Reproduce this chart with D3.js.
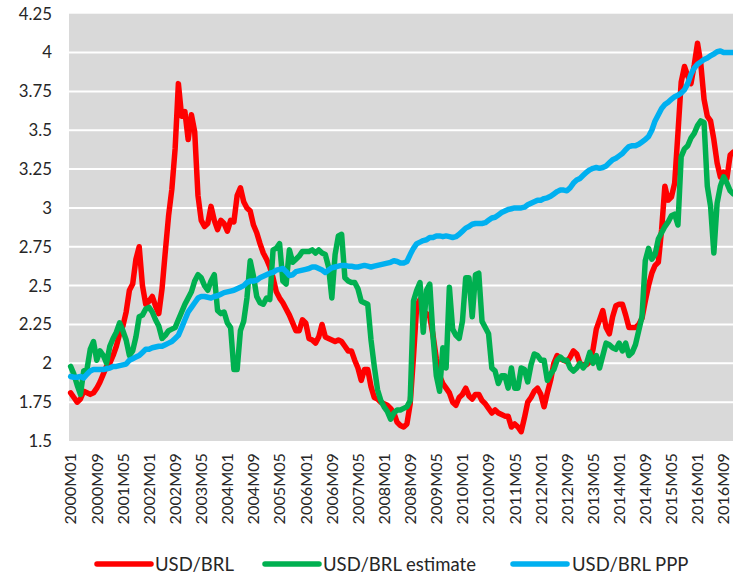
<!DOCTYPE html>
<html>
<head>
<meta charset="utf-8">
<script src="https://cdn.jsdelivr.net/npm/d3@7"></script>
<style>
  html, body { margin: 0; padding: 0; background: #ffffff; }
  svg { display: block; }
  text { font-family: Lato, "Liberation Sans", sans-serif; fill: #262626; }
</style>
</head>
<body>
<svg id="chart" width="733" height="578"></svg>
<script>
// Monthly categories, 2000M01 .. 2016M12
const startYear = 2000;
const endYear = 2016;
const months = [];
for (let y = startYear; y <= endYear; y++) {
  for (let m = 1; m <= 12; m++) months.push(`${y}M${String(m).padStart(2, "0")}`);
}

// Every eighth month gets a label on the category axis
const tickMonths = months.filter((d, i) => i % 8 === 0);

const yTicks = [1.5, 1.75, 2, 2.25, 2.5, 2.75, 3, 3.25, 3.5, 3.75, 4, 4.25];

// USD/BRL, monthly average
const usdBrl = [
  1.81, 1.78, 1.75, 1.77, 1.82, 1.81, 1.80, 1.81, 1.84, 1.88, 1.93, 1.98,
  2.00, 2.05, 2.11, 2.19, 2.24, 2.33, 2.47, 2.51, 2.67, 2.75, 2.50, 2.38,
  2.40, 2.43, 2.37, 2.32, 2.48, 2.72, 2.95, 3.12, 3.38, 3.80, 3.59, 3.62,
  3.44, 3.60, 3.49, 3.08, 2.92, 2.88, 2.90, 3.01, 2.92, 2.86, 2.92, 2.90,
  2.85, 2.92, 2.91, 3.08, 3.13, 3.04, 3.00, 2.98, 2.89, 2.84, 2.77, 2.71,
  2.67, 2.62, 2.55, 2.46, 2.42, 2.39, 2.35, 2.31, 2.26, 2.21, 2.21, 2.28,
  2.26, 2.16, 2.15, 2.13, 2.17, 2.25, 2.17, 2.16, 2.15, 2.14, 2.15, 2.14,
  2.11, 2.08, 2.08, 2.02, 1.97, 1.89, 1.96, 1.96, 1.85, 1.78, 1.77, 1.75,
  1.74, 1.73, 1.71, 1.68, 1.62, 1.60, 1.59, 1.61, 1.74, 2.04, 2.37, 2.41,
  2.33, 2.32, 2.30, 2.18, 2.03, 1.92, 1.87, 1.84, 1.81, 1.75, 1.73, 1.78,
  1.80, 1.84, 1.79, 1.77, 1.80, 1.80, 1.76, 1.74, 1.71, 1.68, 1.70, 1.68,
  1.67, 1.66, 1.66, 1.59, 1.61, 1.59, 1.56, 1.65, 1.75, 1.78, 1.82, 1.84,
  1.80, 1.72, 1.81, 1.89, 2.00, 2.05, 2.03, 2.02, 2.01, 2.04, 2.08, 2.06,
  2.00, 1.99, 1.99, 2.01, 2.09, 2.22, 2.28, 2.34, 2.23, 2.19, 2.30, 2.37,
  2.38, 2.38, 2.31, 2.23, 2.23, 2.23, 2.25, 2.29, 2.40, 2.50, 2.58, 2.63,
  2.65, 2.86, 3.14, 3.05, 3.07, 3.16, 3.48, 3.81, 3.91, 3.85, 3.80, 3.92,
  4.06, 3.93, 3.70, 3.59, 3.56, 3.44, 3.29, 3.20, 3.23, 3.19, 3.34, 3.36
];

// USD/BRL estimate
const usdBrlEstimate = [
  1.98, 1.93, 1.86, 1.80, 1.95, 1.96, 2.09, 2.14, 2.02, 2.08, 2.05, 2.00,
  2.11, 2.16, 2.20, 2.26, 2.21, 2.15, 2.05, 2.08, 2.17, 2.30, 2.31, 2.35,
  2.36, 2.33, 2.28, 2.24, 2.16, 2.18, 2.21, 2.22, 2.23, 2.28, 2.33, 2.38,
  2.42, 2.46, 2.53, 2.57, 2.55, 2.50, 2.47, 2.53, 2.57, 2.34, 2.32, 2.33,
  2.26, 2.23, 1.96, 1.96, 2.21, 2.27, 2.42, 2.66, 2.56, 2.43, 2.39, 2.38,
  2.42, 2.41, 2.73, 2.74, 2.77, 2.53, 2.51, 2.73, 2.65, 2.67, 2.69, 2.72,
  2.72, 2.72, 2.73, 2.71, 2.73, 2.71, 2.70, 2.62, 2.42, 2.70, 2.82, 2.83,
  2.55, 2.53, 2.52, 2.52, 2.48, 2.40, 2.39, 2.38, 2.15, 1.98, 1.83, 1.76,
  1.72, 1.69, 1.64, 1.68, 1.70, 1.70, 1.71, 1.72, 1.76, 2.40, 2.47, 2.52,
  2.20, 2.47, 2.51, 2.17, 1.92, 1.82, 2.10, 1.97, 2.49, 2.22, 2.18, 2.16,
  2.27, 2.55, 2.55, 2.30, 2.57, 2.58, 2.27, 2.23, 2.19, 1.97, 1.95, 1.87,
  1.92, 1.92, 1.84, 1.97, 1.84, 1.84, 1.97, 1.96, 1.88, 1.99, 2.06, 2.05,
  2.02, 2.02, 1.89, 1.93, 1.96, 2.02, 2.04, 2.02, 2.02, 1.97, 1.95, 1.97,
  2.00, 1.97, 2.00, 2.07, 2.00, 2.05, 1.97, 2.05, 2.13, 2.12, 2.10, 2.09,
  2.13, 2.08, 2.13, 2.05, 2.07, 2.12, 2.21, 2.30, 2.66, 2.74, 2.67, 2.70,
  2.80, 2.84, 2.88, 2.91, 2.95, 2.96, 2.89, 3.33, 3.38, 3.40, 3.45, 3.48,
  3.53, 3.56, 3.55, 3.14, 3.01, 2.71, 3.03, 3.14, 3.20, 3.16, 3.11, 3.09
];

// USD/BRL purchasing power parity
const usdBrlPpp = [
  1.915, 1.91, 1.91, 1.915, 1.905, 1.93, 1.95, 1.96, 1.96, 1.96, 1.96, 1.965,
  1.97, 1.98, 1.98, 1.985, 1.99, 1.995, 2.02, 2.03, 2.04, 2.05, 2.07, 2.09,
  2.09, 2.10, 2.105, 2.11, 2.11, 2.12, 2.13, 2.14, 2.16, 2.18, 2.23, 2.28,
  2.33, 2.36, 2.39, 2.42, 2.43, 2.43, 2.425, 2.42, 2.43, 2.435, 2.445, 2.455,
  2.46, 2.465, 2.47, 2.48, 2.49, 2.50, 2.52, 2.53, 2.53, 2.535, 2.55, 2.56,
  2.57, 2.58, 2.585, 2.60, 2.605, 2.61, 2.59, 2.565, 2.57, 2.59, 2.595, 2.60,
  2.605, 2.61, 2.62, 2.62, 2.61, 2.60, 2.585, 2.60, 2.615, 2.62, 2.625, 2.63,
  2.63, 2.625, 2.625, 2.62, 2.62, 2.625, 2.63, 2.625, 2.62, 2.625, 2.63, 2.635,
  2.64, 2.645, 2.65, 2.66, 2.655, 2.645, 2.645, 2.655, 2.70, 2.74, 2.77, 2.78,
  2.79, 2.795, 2.81, 2.81, 2.82, 2.82, 2.815, 2.82, 2.815, 2.81, 2.815, 2.83,
  2.85, 2.87, 2.88, 2.895, 2.90, 2.90, 2.90, 2.905, 2.92, 2.935, 2.94, 2.955,
  2.97, 2.98, 2.99, 2.995, 3.00, 3.00, 3.00, 3.005, 3.02, 3.03, 3.04, 3.05,
  3.05, 3.06, 3.065, 3.075, 3.09, 3.105, 3.115, 3.115, 3.11, 3.13, 3.16, 3.18,
  3.19, 3.21, 3.23, 3.245, 3.255, 3.26, 3.255, 3.26, 3.27, 3.29, 3.31, 3.32,
  3.335, 3.35, 3.375, 3.395, 3.40, 3.40, 3.41, 3.425, 3.44, 3.46, 3.50, 3.56,
  3.60, 3.64, 3.665, 3.68, 3.70, 3.715, 3.725, 3.74, 3.76, 3.80, 3.86, 3.90,
  3.925, 3.94, 3.955, 3.965, 3.98, 3.99, 4.005, 4.01, 4.00, 4.00, 4.00, 4.00
];

const seriesNames = ["USD/BRL", "USD/BRL estimate", "USD/BRL PPP"];
const seriesColors = ["#FF0000", "#00B050", "#00B0F0"];
const seriesValues = [usdBrl, usdBrlEstimate, usdBrlPpp];

// Layout
const plot = { left: 69, top: 13.7, bottom: 441, step: 3.265 };
plot.right = plot.left + months.length * plot.step;

const svg = d3.select("#chart");

const x = d3.scaleBand().domain(months).range([plot.left, plot.right]).padding(0);
const y = d3.scaleLinear().domain([1.5, 4.25]).range([plot.bottom, plot.top]);
const cx = d => x(d) + x.bandwidth() / 2;

// Plot area background
svg.append("rect")
  .attr("x", plot.left).attr("y", plot.top)
  .attr("width", plot.right - plot.left).attr("height", plot.bottom - plot.top)
  .attr("fill", "#D9D9D9");

// Horizontal gridlines
svg.append("g")
  .selectAll("line")
  .data(yTicks.filter(t => t > 1.5 && t < 4.25))
  .join("line")
  .attr("x1", plot.left).attr("x2", plot.right)
  .attr("y1", d => y(d)).attr("y2", d => y(d))
  .attr("stroke", "#FFFFFF").attr("stroke-width", 2);

// Value axis
const yAxis = svg.append("g")
  .attr("transform", `translate(${plot.left},0)`)
  .call(d3.axisLeft(y).tickValues(yTicks).tickSize(0).tickPadding(17).tickFormat(d => String(d)));
yAxis.select(".domain").remove();
yAxis.selectAll("text").style("font-size", "16.8px").attr("fill", "#262626");

// Category axis with vertical labels
const xAxis = svg.append("g")
  .attr("transform", `translate(0,${plot.bottom})`)
  .call(d3.axisBottom(x).tickValues(tickMonths).tickSize(0));
xAxis.select(".domain").remove();
xAxis.selectAll("text")
  .attr("transform", "rotate(-90)")
  .attr("x", -12).attr("y", 0).attr("dy", "0.36em")
  .style("text-anchor", "end")
  .style("font-size", "16.2px")
  .attr("fill", "#262626");

// Series lines
const line = d3.line()
  .x((d, i) => cx(months[i]))
  .y(d => y(d));

svg.append("g")
  .selectAll("path")
  .data(seriesValues)
  .join("path")
  .attr("d", d => line(d))
  .attr("fill", "none")
  .attr("stroke", (d, i) => seriesColors[i])
  .attr("stroke-width", 5.5)
  .attr("stroke-linejoin", "round")
  .attr("stroke-linecap", "round");

// Legend
const legendItems = [
  { x1: 97, x2: 151, tx: 155 },
  { x1: 265, x2: 319, tx: 323 },
  { x1: 513, x2: 567, tx: 572 }
];
const legend = svg.append("g").attr("transform", "translate(0,564)");
legendItems.forEach((p, i) => {
  legend.append("line")
    .attr("x1", p.x1).attr("x2", p.x2).attr("y1", 0).attr("y2", 0)
    .attr("stroke", seriesColors[i]).attr("stroke-width", 5.5)
    .attr("stroke-linecap", "round");
  legend.append("text")
    .attr("x", p.tx).attr("y", 0).attr("dy", "0.36em")
    .style("font-size", "18.5px")
    .text(seriesNames[i]);
});
</script>
</body>
</html>
